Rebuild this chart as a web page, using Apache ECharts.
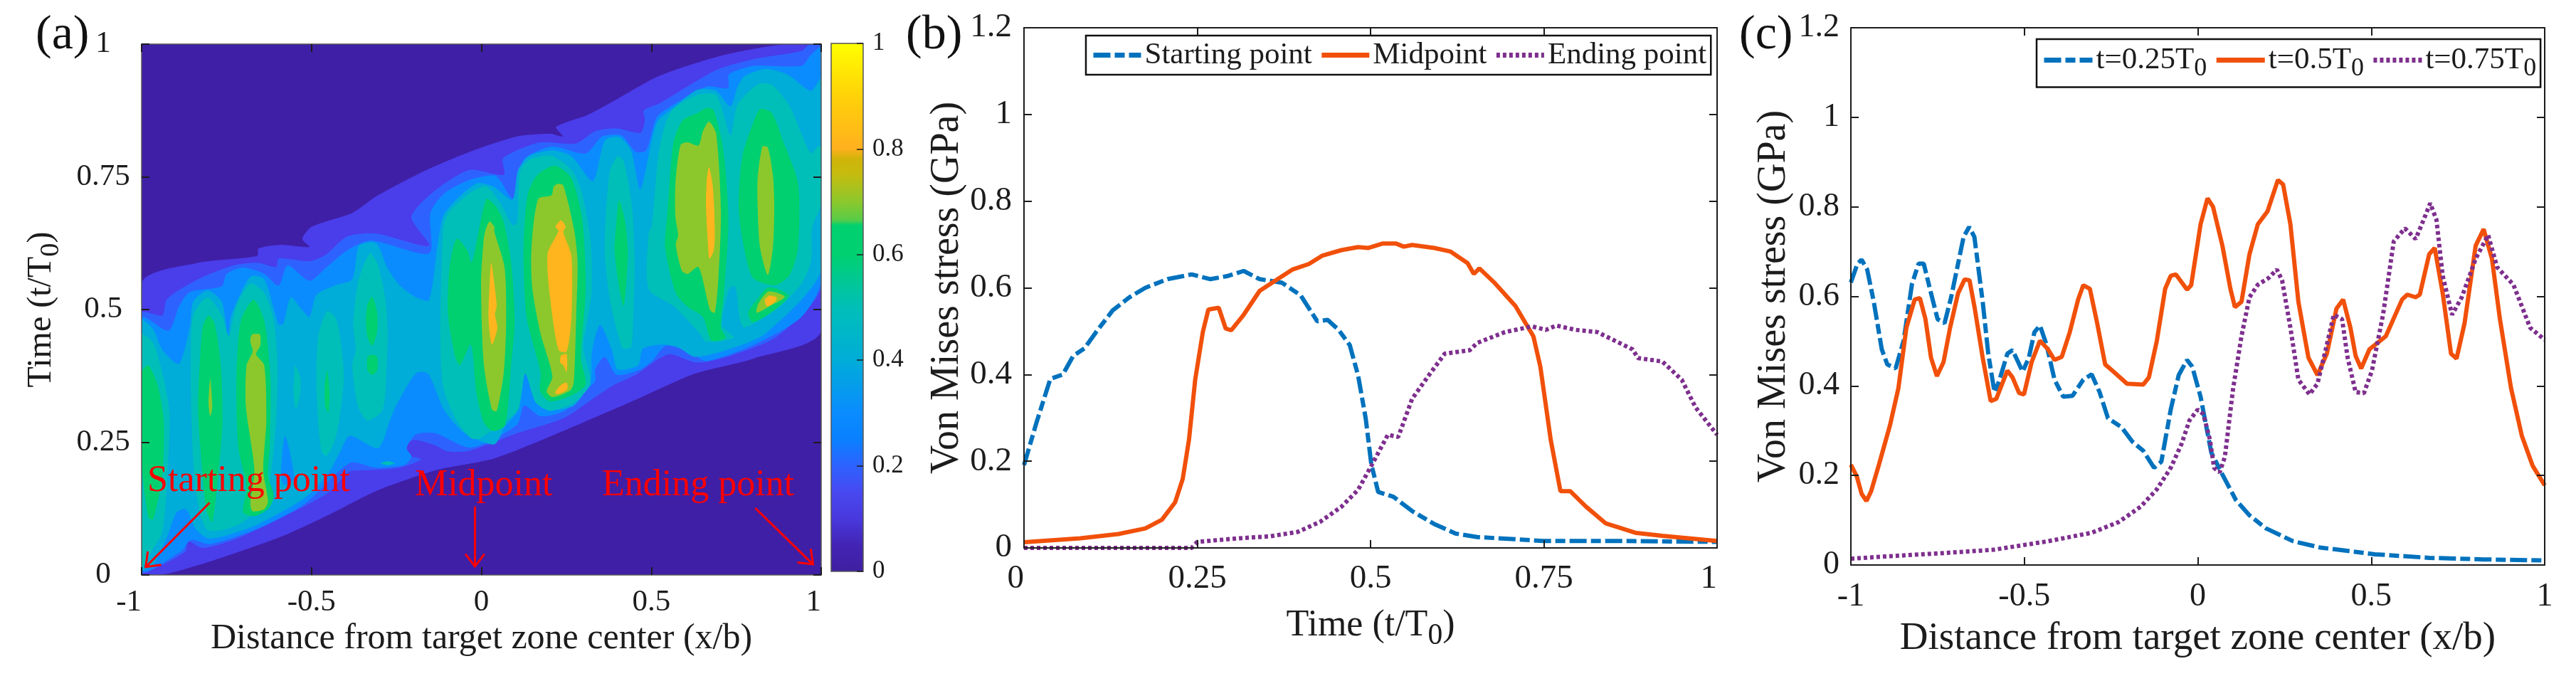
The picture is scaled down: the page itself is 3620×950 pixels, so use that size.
<!DOCTYPE html>
<html><head><meta charset="utf-8">
<style>html,body{margin:0;padding:0;background:#fff}#c{width:3620px;height:950px}</style>
<script src="https://cdn.jsdelivr.net/npm/echarts@6/dist/echarts.min.js"></script>
</head><body><div id="c"></div>
<script>
// ---------- panel (b) ----------
const bStartingPoint=[[0,.191],[.018,.289],[.038,.39],[.056,.40],[.071,.443],[.087,.46],[.104,.498],[.128,.548],[.152,.578],[.175,.60],[.207,.62],[.242,.631],[.269,.62],[.293,.627],[.317,.639],[.34,.62],[.372,.612],[.399,.583],[.423,.523],[.438,.526],[.454,.503],[.47,.468],[.482,.398],[.493,.299],[.501,.194],[.511,.129],[.533,.118],[.56,.085],[.592,.055],[.623,.033],[.654,.025],[.709,.02],[.749,.016],[.866,.016],[1,.014]];
const bMidpoint=[[0,.013],[.081,.022],[.136,.032],[.175,.045],[.199,.065],[.218,.105],[.229,.159],[.238,.249],[.247,.388],[.258,.498],[.266,.55],[.281,.554],[.291,.506],[.299,.502],[.317,.538],[.34,.593],[.364,.618],[.387,.642],[.411,.655],[.43,.674],[.458,.687],[.482,.694],[.497,.692],[.517,.702],[.537,.702],[.548,.695],[.56,.699],[.592,.692],[.615,.684],[.64,.657],[.649,.632],[.657,.645],[.678,.613],[.709,.558],[.735,.488],[.745,.418],[.76,.249],[.774,.131],[.788,.131],[.811,.095],[.839,.057],[.882,.035],[.921,.028],[1,.016]];
const bEndingPoint=[[0,0],[.242,0],[.25,.014],[.309,.022],[.356,.027],[.395,.037],[.427,.06],[.458,.095],[.482,.134],[.501,.189],[.525,.261],[.54,.256],[.56,.344],[.584,.398],[.607,.448],[.643,.456],[.654,.473],[.694,.498],[.733,.511],[.753,.503],[.768,.513],[.796,.503],[.827,.498],[.878,.458],[.886,.438],[.921,.43],[.949,.388],[.969,.324],[1,.261]];
// ---------- panel (c) ----------
const cQuarter=[[-1,.631],[-.981,.673],[-.969,.682],[-.953,.66],[-.934,.588],[-.911,.482],[-.895,.448],[-.871,.439],[-.848,.501],[-.824,.627],[-.805,.673],[-.79,.673],[-.769,.607],[-.75,.549],[-.73,.54],[-.711,.598],[-.675,.733],[-.659,.755],[-.644,.733],[-.62,.588],[-.604,.472],[-.586,.386],[-.573,.41],[-.549,.472],[-.534,.48],[-.505,.432],[-.487,.463],[-.471,.52],[-.455,.535],[-.436,.492],[-.413,.414],[-.388,.376],[-.361,.378],[-.33,.414],[-.306,.426],[-.283,.386],[-.259,.328],[-.22,.308],[-.188,.275],[-.157,.255],[-.126,.217],[-.105,.231],[-.078,.347],[-.055,.424],[-.031,.458],[-.016,.443],[.008,.376],[.039,.251],[.071,.202],[.11,.145],[.149,.111],[.196,.082],[.275,.053],[.353,.039],[.51,.024],[.667,.016],[.824,.0125],[1,.01]];
const cHalf=[[-1,.224],[-.983,.198],[-.969,.159],[-.955,.143],[-.942,.164],[-.918,.227],[-.887,.313],[-.863,.395],[-.84,.53],[-.816,.593],[-.801,.596],[-.785,.549],[-.769,.463],[-.752,.422],[-.733,.453],[-.714,.53],[-.691,.607],[-.672,.638],[-.658,.636],[-.644,.578],[-.62,.463],[-.597,.366],[-.581,.371],[-.549,.434],[-.534,.419],[-.515,.384],[-.501,.381],[-.479,.453],[-.455,.501],[-.432,.482],[-.413,.458],[-.392,.465],[-.369,.52],[-.345,.593],[-.33,.625],[-.311,.617],[-.29,.54],[-.267,.448],[-.243,.432],[-.204,.405],[-.157,.403],[-.141,.419],[-.118,.501],[-.094,.617],[-.078,.646],[-.063,.649],[-.031,.615],[-.019,.625],[.008,.761],[.028,.819],[.044,.8],[.071,.713],[.094,.617],[.107,.576],[.126,.588],[.149,.694],[.173,.761],[.201,.79],[.231,.86],[.246,.85],[.267,.761],[.29,.588],[.319,.463],[.345,.424],[.372,.472],[.4,.573],[.419,.593],[.44,.53],[.455,.467],[.471,.439],[.495,.482],[.518,.496],[.542,.511],[.589,.593],[.604,.604],[.628,.598],[.64,.604],[.667,.694],[.683,.708],[.706,.607],[.73,.472],[.746,.461],[.769,.54],[.801,.713],[.824,.75],[.848,.684],[.871,.549],[.903,.395],[.934,.289],[.965,.222],[1,.178]];
const cThreeQuarter=[[-1,.014],[-.903,.019],[-.746,.026],[-.589,.034],[-.432,.053],[-.306,.072],[-.228,.096],[-.165,.13],[-.118,.169],[-.078,.217],[-.047,.27],[-.024,.323],[0,.347],[.016,.337],[.035,.28],[.047,.217],[.063,.207],[.078,.241],[.102,.395],[.126,.511],[.149,.598],[.173,.626],[.204,.641],[.228,.66],[.243,.636],[.267,.53],[.29,.414],[.322,.381],[.345,.405],[.369,.482],[.392,.559],[.416,.549],[.432,.463],[.455,.386],[.479,.384],[.502,.434],[.534,.559],[.565,.723],[.597,.752],[.628,.728],[.651,.771],[.67,.808],[.688,.771],[.706,.646],[.733,.559],[.761,.598],[.801,.684],[.837,.737],[.863,.665],[.91,.626],[.958,.53],[1,.503]];
// ---------- panel (a): filled contour outlines, [x/b, t/T0] ----------
const band1=[[-.94,0],[-.80,.025],[-.59,.072],[-.45,.113],[-.31,.158],[-.13,.198],[.04,.220],[.244,.272],[.454,.33],[.628,.379],[.803,.408],[1,.46],[1,1],[.869,.998],[.698,.977],[.523,.94],[.384,.891],[.314,.867],[.22,.844],[.24,.826],[.202,.831],[.105,.826],[-.035,.797],[-.171,.76],[-.31,.713],[-.38,.682],[-.499,.656],[-.527,.633],[-.506,.618],[-.59,.622],[-.656,.615],[-.66,.601],[-.834,.588],[-1,.549],[-1,0]];
const band2=[[-1,.006],[-.94,.019],[-.87,.045],[-.865,.064],[-.82,.051],[-.73,.066],[-.59,.107],[-.45,.155],[-.387,.195],[-.338,.197],[-.241,.202],[-.178,.218],[-.234,.229],[-.202,.254],[-.136,.244],[-.10,.233],[-.035,.234],[.105,.267],[.244,.296],[.335,.335],[.384,.356],[.454,.377],[.523,.408],[.558,.416],[.635,.40],[.733,.413],[.872,.45],[1,.544],[1,1],[.963,.998],[.942,.987],[.803,.972],[.691,.951],[.523,.888],[.478,.875],[.481,.857],[.468,.833],[.398,.841],[.335,.836],[.279,.813],[.174,.815],[.105,.80],[.063,.784],[.066,.754],[-.035,.763],[-.143,.721],[-.206,.674],[-.154,.62],[-.31,.643],[-.394,.638],[-.457,.604],[-.506,.591],[-.597,.596],[-.604,.58],[-.659,.588],[-.729,.583],[-.834,.557],[-.925,.52],[-.939,.489],[-1,.493]];
const band3=[[-1,.01],[-.883,.045],[-.855,.066],[-.799,.058],[-.659,.087],[-.52,.134],[-.422,.194],[-.38,.212],[-.31,.202],[-.227,.207],[-.206,.223],[-.22,.239],[-.192,.265],[-.136,.267],[-.031,.24],[.105,.283],[.126,.319],[.174,.299],[.244,.309],[.314,.351],[.335,.366],[.335,.387],[.363,.411],[.398,.377],[.468,.387],[.502,.403],[.544,.432],[.614,.419],[.663,.403],[.803,.434],[.942,.486],[1,.554],[1,.993],[.97,.98],[.942,.959],[.803,.959],[.729,.943],[.726,.917],[.663,.92],[.558,.883],[.516,.862],[.485,.80],[.454,.797],[.412,.828],[.356,.826],[.307,.794],[.209,.807],[.126,.784],[.115,.747],[.094,.708],[.056,.742],[.038,.753],[-.031,.745],[-.109,.719],[-.15,.682],[-.154,.606],[-.325,.63],[-.394,.612],[-.457,.579],[-.506,.554],[-.57,.583],[-.597,.545],[-.639,.567],[-.701,.579],[-.75,.567],[-.764,.544],[-.858,.533],[-.889,.507],[-.921,.46],[-1,.484]];
const band4=[[-1,.011],[-.966,.019],[-.925,.072],[-.897,.118],[-.869,.124],[-.841,.087],[-.806,.069],[-.764,.072],[-.659,.095],[-.52,.145],[-.45,.192],[-.415,.233],[-.387,.262],[-.304,.239],[-.269,.291],[-.251,.319],[-.192,.38],[-.157,.379],[-.115,.317],[-.087,.291],[-.045,.265],[.038,.246],[.07,.28],[.112,.314],[.108,.351],[.124,.395],[.154,.34],[.209,.312],[.272,.319],[.321,.366],[.325,.419],[.349,.471],[.384,.424],[.401,.387],[.461,.395],[.475,.426],[.53,.434],[.579,.429],[.628,.411],[.733,.426],[.837,.455],[1,.575],[1,.935],[.97,.912],[.9,.943],[.837,.953],[.775,.94],[.754,.92],[.733,.883],[.691,.912],[.635,.914],[.565,.88],[.516,.852],[.468,.727],[.44,.80],[.405,.825],[.363,.818],[.328,.742],[.265,.789],[.209,.80],[.14,.789],[.108,.763],[.091,.707],[.035,.732],[-.017,.737],[-.108,.682],[-.126,.635],[-.154,.518],[-.192,.523],[-.241,.546],[-.276,.578],[-.31,.625],[-.36,.62],[-.38,.557],[-.429,.546],[-.485,.528],[-.506,.486],[-.527,.499],[-.561,.523],[-.583,.473],[-.597,.473],[-.639,.557],[-.68,.562],[-.736,.489],[-.746,.45],[-.764,.515],[-.806,.536],[-.848,.515],[-.858,.468],[-.89,.398],[-.939,.424],[-.966,.463],[-1,.479]];
const wedge3=[[-.578,.262],[-.551,.181],[-.58,.17],[-.59,.186]];
const band5=[
 [[-1,.452],[-.966,.437],[-.939,.38],[-.918,.307],[-.922,.213],[-.939,.082],[-.98,.035],[-1,.014]],
 [[-.855,.395],[-.848,.489],[-.806,.523],[-.764,.489],[-.743,.45],[-.722,.505],[-.68,.549],[-.639,.531],[-.611,.479],[-.6,.395],[-.604,.291],[-.618,.197],[-.635,.139],[-.715,.095],[-.806,.085],[-.841,.16],[-.853,.291]],
 [[-.454,.497],[-.429,.484],[-.415,.447],[-.405,.369],[-.426,.265],[-.454,.225],[-.471,.233],[-.485,.343],[-.481,.447]],
 [[-.548,.395],[-.532,.369],[-.534,.338],[-.546,.312],[-.553,.343],[-.551,.374]],
 [[-.328,.606],[-.304,.583],[-.283,.52],[-.276,.458],[-.279,.395],[-.29,.312],[-.335,.291],[-.363,.317],[-.38,.395],[-.37,.424],[-.377,.473],[-.363,.552]],
 [[-.297,.21],[-.276,.214],[-.255,.21],[-.276,.207]],
 [[-.112,.656],[-.094,.685],[-.031,.721],[.014,.732],[.056,.70],[.091,.659],[.105,.664],[.115,.763],[.147,.784],[.209,.789],[.265,.763],[.293,.727],[.321,.633],[.325,.539],[.314,.486],[.3,.429],[.321,.361],[.272,.325],[.202,.309],[.16,.325],[.129,.379],[.105,.309],[-.007,.257],[-.031,.258],[-.073,.291],[-.112,.353],[-.121,.447]],
 [[.401,.789],[.419,.779],[.443,.695],[.451,.591],[.447,.486],[.44,.429],[.415,.428],[.38,.513],[.363,.612],[.377,.758]],
 [[.523,.80],[.558,.873],[.635,.904],[.691,.904],[.733,.828],[.754,.886],[.816,.925],[.858,.922],[.907,.883],[.942,.831],[.97,.794],[.99,.807],[1,.807],[1,.70],[.973,.653],[.97,.591],[.942,.549],[.872,.502],[.775,.466],[.761,.481],[.747,.544],[.729,.539],[.708,.471],[.743,.447],[.663,.439],[.639,.458],[.565,.507],[.492,.539],[.492,.643],[.502,.659]]
];
const band6=[
 [[-1,.382],[-.98,.395],[-.953,.358],[-.935,.291],[-.939,.186],[-.966,.105],[-.98,.108],[-1,.212]],
 [[-.803,.489],[-.785,.473],[-.767,.395],[-.762,.291],[-.771,.212],[-.792,.10],[-.81,.124],[-.827,.239],[-.834,.317],[-.829,.395],[-.82,.468]],
 [[-.67,.518],[-.639,.479],[-.621,.369],[-.623,.239],[-.628,.186],[-.611,.15],[-.625,.126],[-.666,.111],[-.701,.118],[-.691,.165],[-.715,.239],[-.721,.369],[-.708,.479]],
 [[-.454,.385],[-.447,.343],[-.45,.306],[-.459,.317],[-.461,.353]],
 [[-.321,.524],[-.307,.494],[-.307,.458],[-.321,.432],[-.335,.447],[-.34,.479],[-.335,.51]],
 [[-.321,.415],[-.307,.411],[-.307,.385],[-.321,.377],[-.335,.385],[-.335,.411]],
 [[-.073,.633],[-.042,.612],[-.028,.588],[.014,.708],[.042,.695],[.066,.664],[.087,.591],[.098,.481],[.087,.392],[.07,.283],[.035,.271],[.007,.288],[-.014,.34],[-.031,.434],[-.063,.395],[-.077,.411],[-.098,.489],[-.094,.578]],
 [[.216,.771],[.265,.747],[.297,.669],[.307,.539],[.293,.408],[.307,.359],[.265,.338],[.202,.327],[.173,.346],[.174,.382],[.133,.486],[.124,.612],[.136,.716],[.164,.753]],
 [[.405,.706],[.422,.669],[.431,.606],[.419,.507],[.405,.544],[.392,.612],[.398,.669]],
 [[.663,.88],[.684,.875],[.712,.80],[.727,.669],[.715,.539],[.705,.466],[.719,.446],[.677,.442],[.652,.486],[.607,.505],[.572,.531],[.541,.617],[.548,.685],[.565,.815],[.593,.857],[.635,.87]],
 [[.821,.878],[.855,.87],[.886,.82],[.932,.737],[.932,.617],[.907,.565],[.865,.546],[.799,.56],[.768,.633],[.757,.695],[.768,.789],[.803,.857]],
 [[.785,.494],[.813,.52],[.841,.541],[.872,.539],[.904,.526],[.865,.50],[.799,.476]]
];
const band7=[
 [[-.798,.369],[-.792,.317],[-.798,.299],[-.803,.323]],
 [[-.675,.453],[-.652,.453],[-.651,.432],[-.663,.416],[-.639,.395],[-.633,.291],[-.642,.197],[-.628,.139],[-.639,.124],[-.673,.12],[-.68,.134],[-.668,.197],[-.693,.317],[-.691,.395],[-.673,.421],[-.68,.44]],
 [[.024,.666],[.038,.656],[.038,.647],[.068,.58],[.073,.481],[.066,.382],[.045,.309],[.031,.312],[.007,.398],[-.001,.549],[.007,.633],[.014,.653]],
 [[.227,.737],[.241,.734],[.272,.653],[.283,.591],[.279,.486],[.272,.364],[.262,.348],[.209,.335],[.192,.346],[.209,.374],[.174,.455],[.15,.539],[.147,.612],[.167,.708],[.206,.715],[.213,.732]],
 [[.67,.854],[.691,.831],[.705,.685],[.698,.565],[.687,.494],[.673,.499],[.639,.58],[.607,.567],[.59,.573],[.572,.622],[.579,.64],[.571,.674],[.571,.737],[.586,.81],[.607,.815],[.639,.809],[.652,.836]],
 [[.827,.807],[.843,.805],[.858,.752],[.862,.695],[.858,.617],[.843,.565],[.82,.617],[.813,.695],[.813,.747]],
 [[.81,.494],[.816,.512],[.845,.534],[.893,.524],[.845,.505]]
];
const band8=[
 [[.029,.588],[.038,.549],[.045,.507],[.04,.491],[.047,.465],[.031,.434],[.021,.481],[.024,.544]],
 [[.234,.668],[.248,.656],[.241,.646],[.265,.601],[.265,.486],[.251,.421],[.227,.424],[.202,.523],[.195,.606],[.227,.648],[.218,.656]],
 [[.234,.413],[.251,.416],[.251,.382],[.241,.395],[.232,.4]],
 [[.216,.343],[.234,.358],[.251,.362],[.253,.35],[.227,.341]],
 [[.67,.768],[.681,.732],[.687,.653],[.684,.612],[.671,.596],[.666,.632],[.664,.653],[.661,.695],[.663,.742]],
 [[.834,.518],[.848,.526],[.869,.523],[.865,.515],[.841,.506]]
];
const levelColors=['#3f1fa6','#4a3dea','#2e62ff','#0a8cff','#00acd8','#00bfb8','#00d070','#8cc82c','#ffb51e'];
const colorbarStops=[[0,'#3f1fa0'],[.05,'#4224b4'],[.1,'#4838dc'],[.15,'#4848f0'],[.2,'#2e62ff'],[.25,'#0a80ff'],[.3,'#0a8cff'],[.4,'#00acd8'],[.5,'#00bfb8'],[.6,'#00d070'],[.655,'#00d070'],[.665,'#58cc48'],[.7,'#8cc82c'],[.75,'#c4bc10'],[.78,'#d0b408'],[.8,'#ffb01e'],[.9,'#ffd208'],[1,'#ffff00']];
const annotationTexts=[['Starting point',-.983,.177],['Midpoint',-.196,.169],['Ending point',.355,.169]];
const annotationArrows=[[-.8,.136,-.988,.015],[-.019,.129,-.019,.016],[.806,.126,.976,.02]];
const xTicksAC=[-1,1,.5];
const timeTicks=[0,1,.25];
const stressTicks=[0,1.2,.2];

const serif='Liberation Serif', ink='#1c1c1c';
const layers=[[1,band1],[2,band2],[3,band3],[4,band4],[3,wedge3]]
 .concat(band5.map(p=>[5,p]),band6.map(p=>[6,p]),band7.map(p=>[7,p]),band8.map(p=>[8,p]));

function subRich(size,sub,drop){return {sub:{fontFamily:serif,fontSize:sub,color:ink,verticalAlign:'bottom',padding:[drop,0,0,0]}};}
function axesPair(gi,kind,ticks,o){
  const base={type:'value',gridIndex:gi,min:ticks[0],max:ticks[1],interval:ticks[2],z:6,splitLine:{show:false},
    axisLine:{show:true,onZero:false,lineStyle:{color:o.spine,width:o.sw}},
    axisTick:{show:true,inside:true,length:o.tick,lineStyle:{color:ink,width:2}}};
  const lab={fontFamily:serif,fontSize:o.font,color:ink,margin:o.margin,showMinLabel:true,showMaxLabel:true};
  const main=Object.assign({},base,{position:kind==='x'?'bottom':'left',axisLabel:Object.assign(lab,o.label||{}),
    name:o.name,nameLocation:'middle',nameGap:o.gap,nameTextStyle:{fontFamily:serif,fontSize:o.nameFont,color:ink,rich:subRich(o.nameFont,o.nameFont*.8,o.nameFont*.55)}});
  const mirror=Object.assign({},base,{position:kind==='x'?'top':'right',axisLabel:{show:false},name:''});
  return [main,mirror];
}
function lineSeries(name,data,color,dash,width,xi,yi){
  return {name,type:'line',data,xAxisIndex:xi,yAxisIndex:yi,showSymbol:false,symbol:'none',smooth:false,silent:true,z:3,
    lineStyle:{color,width,type:dash},itemStyle:{color}};
}
const blue='#0072bd',orange='#f1500a',purple='#7e2f8e',dashB=[24,6,14,6],dotP=[5,4];

const gA=axesPair(0,'x',xTicksAC,{spine:'#555',sw:1.5,tick:11,font:43,margin:17,gap:65,nameFont:50,name:'Distance from target zone center (x/b)',label:{alignMinLabel:'right',alignMaxLabel:'right'}});
const gAy=axesPair(0,'y',timeTicks,{spine:'#555',sw:1.5,tick:11,font:43,margin:54,gap:108,nameFont:48,name:'Time (t/T{sub|0})',label:{align:'center'}});
const gB=axesPair(2,'x',timeTicks,{spine:ink,sw:2,tick:11,font:47,margin:20,gap:74,nameFont:52,name:'Time (t/T{sub|0})',label:{alignMinLabel:'right',alignMaxLabel:'right'}});
const gBy=axesPair(2,'y',stressTicks,{spine:ink,sw:2,tick:11,font:47,margin:17,gap:80,nameFont:56,name:'Von Mises stress (GPa)'});
const gC=axesPair(3,'x',xTicksAC,{spine:ink,sw:2,tick:11,font:46,margin:22,gap:76,nameFont:55,name:'Distance from target zone center (x/b)'});
const gCy=axesPair(3,'y',stressTicks,{spine:ink,sw:2,tick:11,font:46,margin:16,gap:80,nameFont:56,name:'Von Mises stress (GPa)'});

const legendCommon={orient:'horizontal',itemHeight:14,itemGap:10,borderColor:'#111',borderWidth:2.5,backgroundColor:'#fff',selectedMode:false,itemStyle:{opacity:0},lineStyle:{width:7}};
const option={animation:false,backgroundColor:'#fff',
 title:[['(a)',50],['(b)',1273],['(c)',2444]].map(t=>({text:t[0],left:t[1],top:16,padding:0,textStyle:{fontFamily:serif,fontSize:68,fontWeight:'normal',color:'#111'}})),
 grid:[
  {left:199,top:62,width:955,height:746},
  {left:1168,top:61,width:45,height:742},
  {left:1439,top:39,width:974,height:731},
  {left:2601,top:39,width:975,height:755}],
 legend:[
  Object.assign({},legendCommon,{left:1526,top:50,itemWidth:67,padding:[6,6,6,7],
   data:['Starting point','Midpoint','Ending point'],textStyle:{fontFamily:serif,fontSize:43,color:ink}}),
  Object.assign({},legendCommon,{left:2862,top:55,itemWidth:68,padding:[8,6,8,7],
   data:['t=0.25T0','t=0.5T0','t=0.75T0'],
   formatter:n=>n.slice(0,-1)+'{sub|0}',textStyle:{fontFamily:serif,fontSize:43,color:ink,rich:subRich(43,36,24)}})],
 xAxis:[gA[0],gA[1],
  {type:'value',gridIndex:1,min:0,max:1,show:false},
  gB[0],gB[1],gC[0],gC[1]],
 yAxis:[gAy[0],gAy[1],
  {type:'value',gridIndex:1,min:0,max:1,interval:.2,position:'right',z:6,splitLine:{show:false},
   axisLine:{show:false,onZero:false},axisTick:{show:true,inside:true,length:9,lineStyle:{color:ink,width:1.5}},
   axisLabel:{fontFamily:serif,fontSize:35,color:ink,margin:13}},
  gBy[0],gBy[1],gCy[0],gCy[1]],
 series:[
  {type:'custom',xAxisIndex:0,yAxisIndex:0,clip:true,silent:true,z:2,encode:{x:1,y:2},
   data:[[-1,-1,0]].concat(layers.map((l,i)=>[i,0,0])),
   renderItem:function(p,api){
     const i=api.value(0);
     if(i<0){const a=api.coord([-1,1]),b=api.coord([1,0]);
       return {type:'rect',shape:{x:a[0],y:a[1],width:b[0]-a[0],height:b[1]-a[1]},style:{fill:levelColors[0]}};}
     const l=layers[i];
     return {type:'polygon',shape:{points:l[1].map(q=>api.coord(q)),smooth:.25},style:{fill:levelColors[l[0]]}};
   }},
  {type:'custom',xAxisIndex:0,yAxisIndex:0,clip:false,silent:true,z:4,encode:{x:1,y:2},
   data:annotationArrows.map((a,i)=>[i,a[0],a[1]]),
   renderItem:function(p,api){
     const a=annotationArrows[api.value(0)],t=api.coord([a[0],a[1]]),h=api.coord([a[2],a[3]]);
     const ang=Math.atan2(h[1]-t[1],h[0]-t[0]),L=22,w=.65;
     const h1=[h[0]-L*Math.cos(ang-w),h[1]-L*Math.sin(ang-w)],h2=[h[0]-L*Math.cos(ang+w),h[1]-L*Math.sin(ang+w)];
     const st={stroke:'#ff0000',lineWidth:3,fill:null};
     return {type:'group',children:[
       {type:'polyline',shape:{points:[t,h]},style:st},
       {type:'polyline',shape:{points:[h1,h,h2]},style:st}]};
   }},
  {type:'custom',xAxisIndex:0,yAxisIndex:0,clip:false,silent:true,z:5,encode:{x:1,y:2},
   data:annotationTexts.map(a=>[a[1],a[2]]),
   renderItem:function(p,api){
     const c=api.coord([api.value(0),api.value(1)]);
     return {type:'text',style:{x:c[0],y:c[1],text:annotationTexts[p.dataIndex][0],fontFamily:serif,fontSize:52,fill:'#ff0000',align:'left',verticalAlign:'middle'}};
   }},
  {type:'custom',xAxisIndex:2,yAxisIndex:2,silent:true,z:2,encode:{x:0,y:1},data:[[0,0]],
   renderItem:function(p,api){
     const a=api.coord([0,1]),b=api.coord([1,0]);
     return {type:'rect',shape:{x:a[0],y:a[1],width:b[0]-a[0],height:b[1]-a[1]},
       style:{stroke:'#555',lineWidth:1.5,fill:new echarts.graphic.LinearGradient(0,1,0,0,colorbarStops.map(s=>({offset:s[0],color:s[1]})))}};
   }},
  lineSeries('Starting point',bStartingPoint,blue,dashB,6,3,3),
  lineSeries('Midpoint',bMidpoint,orange,'solid',6,3,3),
  lineSeries('Ending point',bEndingPoint,purple,dotP,6,3,3),
  lineSeries('t=0.25T0',cQuarter,blue,dashB,6,5,5),
  lineSeries('t=0.5T0',cHalf,orange,'solid',6,5,5),
  lineSeries('t=0.75T0',cThreeQuarter,purple,dotP,6,5,5)
 ]};
echarts.init(document.getElementById('c'),null,{renderer:'canvas'}).setOption(option);
</script></body></html>
